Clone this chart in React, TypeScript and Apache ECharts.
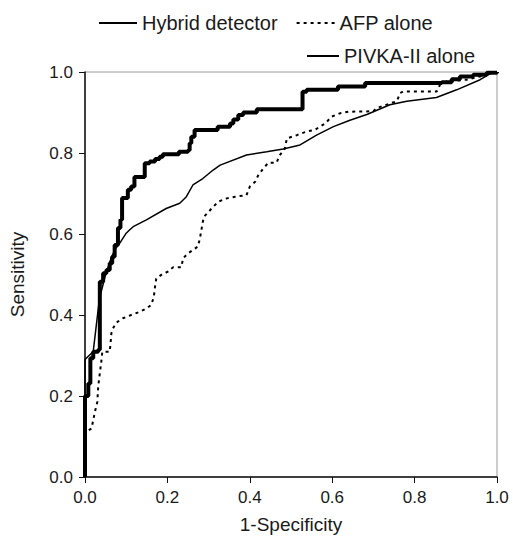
import React, { useEffect, useRef } from "react";
import * as echarts from "echarts";

// Hybrid detector (stepped ROC: x of each rise, y after the rise)
const hybridX = [0, 0, 0.008, 0.013, 0.02, 0.032, 0.036, 0.044, 0.052, 0.06, 0.066, 0.072, 0.08, 0.086, 0.09, 0.104, 0.112, 0.12, 0.145, 0.157, 0.17, 0.181, 0.189, 0.228, 0.25, 0.254, 0.258, 0.266, 0.322, 0.352, 0.36, 0.372, 0.384, 0.417, 0.528, 0.538, 0.614, 0.68, 0.866, 0.89, 0.91, 0.942, 0.975, 1];
const hybridY = [0, 0.2, 0.231, 0.293, 0.309, 0.314, 0.482, 0.503, 0.511, 0.528, 0.544, 0.573, 0.615, 0.635, 0.689, 0.709, 0.717, 0.741, 0.775, 0.779, 0.785, 0.791, 0.797, 0.803, 0.807, 0.824, 0.84, 0.857, 0.865, 0.873, 0.883, 0.894, 0.9, 0.908, 0.951, 0.956, 0.964, 0.973, 0.975, 0.982, 0.989, 0.993, 0.998, 1];

// AFP alone
const afpX = [0, 0, 0.016, 0.02, 0.025, 0.03, 0.032, 0.035, 0.037, 0.04, 0.042, 0.06, 0.062, 0.064, 0.068, 0.076, 0.092, 0.112, 0.133, 0.149, 0.161, 0.167, 0.17, 0.173, 0.185, 0.201, 0.214, 0.234, 0.238, 0.25, 0.274, 0.278, 0.282, 0.285, 0.289, 0.311, 0.324, 0.344, 0.364, 0.392, 0.4, 0.413, 0.421, 0.433, 0.445, 0.465, 0.473, 0.485, 0.49, 0.514, 0.538, 0.558, 0.57, 0.583, 0.599, 0.619, 0.639, 0.7, 0.708, 0.757, 0.765, 0.772, 0.854, 0.862, 0.878, 0.926, 0.959, 0.987, 1];
const afpY = [0, 0.11, 0.12, 0.141, 0.165, 0.186, 0.223, 0.248, 0.264, 0.289, 0.309, 0.309, 0.33, 0.355, 0.367, 0.381, 0.392, 0.4, 0.408, 0.416, 0.425, 0.445, 0.47, 0.49, 0.499, 0.507, 0.518, 0.518, 0.54, 0.552, 0.569, 0.585, 0.606, 0.626, 0.643, 0.667, 0.68, 0.688, 0.692, 0.696, 0.717, 0.729, 0.746, 0.762, 0.776, 0.776, 0.795, 0.811, 0.836, 0.844, 0.853, 0.857, 0.865, 0.873, 0.89, 0.898, 0.902, 0.903, 0.911, 0.928, 0.948, 0.952, 0.952, 0.969, 0.977, 0.981, 0.989, 0.998, 1];

// PIVKA-II alone
const pivkaX = [0, 0, 0.02, 0.035, 0.05, 0.065, 0.075, 0.084, 0.1, 0.108, 0.117, 0.149, 0.197, 0.23, 0.246, 0.262, 0.286, 0.311, 0.328, 0.392, 0.441, 0.481, 0.522, 0.562, 0.603, 0.643, 0.684, 0.74, 0.781, 0.853, 0.902, 0.959, 0.987, 1];
const pivkaY = [0, 0.29, 0.31, 0.44, 0.5, 0.545, 0.565, 0.577, 0.602, 0.61, 0.618, 0.635, 0.663, 0.676, 0.692, 0.721, 0.737, 0.758, 0.77, 0.795, 0.803, 0.81, 0.82, 0.844, 0.865, 0.881, 0.895, 0.919, 0.928, 0.937, 0.956, 0.981, 0.998, 1];

const axisTicks = [0, 0.2, 0.4, 0.6, 0.8, 1.0];

const zip = (xs: number[], ys: number[]) => xs.map((x, i) => [x, ys[i]]);

export default function App() {
  const ref = useRef<HTMLDivElement>(null);
  useEffect(() => {
    if (!ref.current) return;
    const chart = echarts.init(ref.current, null, { renderer: "svg" });
    const font = "Liberation Sans, Arial, sans-serif";
    const txt = "#1a1a1a";
    chart.setOption({
      animation: false,
      backgroundColor: "#ffffff",
      textStyle: { fontFamily: font },
      grid: {
        left: 85,
        right: 16,
        top: 72,
        bottom: 64,
        show: true,
        borderColor: "#9a9a9a",
        borderWidth: 1,
      },
      legend: [
        {
          data: ["Hybrid detector", "AFP alone"],
          left: 93,
          top: 8,
          itemWidth: 38,
          itemHeight: 14,
          itemGap: 18,
          itemStyle: { opacity: 0 },
          textStyle: { fontSize: 20, color: txt, fontFamily: font },
        },
        {
          data: ["PIVKA-II alone"],
          left: 301,
          top: 41,
          itemWidth: 32,
          itemHeight: 14,
          itemStyle: { opacity: 0 },
          textStyle: { fontSize: 20, color: txt, fontFamily: font },
        },
      ],
      xAxis: {
        type: "value",
        min: 0,
        max: 1,
        interval: 0.2,
        name: "1-Specificity",
        nameLocation: "middle",
        nameGap: 38,
        nameTextStyle: { fontSize: 19, color: txt, fontFamily: font },
        axisLine: { show: true, lineStyle: { color: "#111", width: 1.5 } },
        axisTick: { show: true, length: 6, lineStyle: { color: "#111" } },
        axisLabel: {
          fontSize: 17,
          color: txt,
          margin: 12,
          formatter: (v: number) => v.toFixed(1),
        },
        splitLine: { show: false },
      },
      yAxis: {
        type: "value",
        min: 0,
        max: 1,
        interval: 0.2,
        name: "Sensitivity",
        nameLocation: "middle",
        nameGap: 58,
        nameTextStyle: { fontSize: 19, color: txt, fontFamily: font },
        axisLine: { show: true, lineStyle: { color: "#111", width: 1.5 } },
        axisTick: { show: true, length: 6, lineStyle: { color: "#111" } },
        axisLabel: {
          fontSize: 17,
          color: txt,
          margin: 12,
          formatter: (v: number) => (axisTicks.includes(v) ? v.toFixed(1) : ""),
        },
        splitLine: { show: false },
      },
      series: [
        {
          name: "Hybrid detector",
          type: "line",
          step: "end",
          data: zip(hybridX, hybridY),
          symbol: "none",
          lineStyle: { color: "#000", width: 4 },
          itemStyle: { color: "#000" },
          z: 3,
        },
        {
          name: "AFP alone",
          type: "line",
          data: zip(afpX, afpY),
          symbol: "none",
          lineStyle: { color: "#000", width: 2, type: [3, 4] },
          itemStyle: { color: "#000" },
          z: 2,
        },
        {
          name: "PIVKA-II alone",
          type: "line",
          data: zip(pivkaX, pivkaY),
          symbol: "none",
          lineStyle: { color: "#000", width: 1.5 },
          itemStyle: { color: "#000" },
          z: 2,
        },
      ],
    });
    return () => chart.dispose();
  }, []);
  return <div ref={ref} style={{ width: 513, height: 541, position: "absolute", left: 0, top: 0 }} />;
}
